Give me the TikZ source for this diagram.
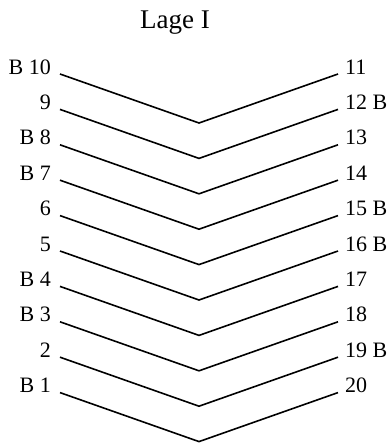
\documentclass[tikz,border=0pt]{standalone}
\usepackage{fontspec}
\setmainfont{Liberation Serif}
\usepackage{tikz}

\tikzset{
  lbl/.style={inner sep=0pt,font=\fontsize{22}{26}\selectfont},
  wire/.style={line width=1.6pt},
}

\begin{document}
\begin{tikzpicture}[x=1pt,y=-1pt]
  \useasboundingbox (0,0) rectangle (389,445);
  \node[anchor=base,inner sep=0pt,font=\fontsize{27}{32}\selectfont] (title) at (175,28) {Lage I};
  \foreach \lt/\rt [count=\i from 0] in {B 10/11, 9/12 B, B 8/13, B 7/14, 6/15 B,
      5/16 B, B 4/17, B 3/18, 2/19 B, B 1/20} {
    \coordinate (l\i) at (60,74+35.4*\i);
    \coordinate (v\i) at (199,123+35.4*\i);
    \coordinate (r\i) at (338,74+35.4*\i);
    \node[lbl,anchor=base east] (ll\i) at (51,74+35.4*\i) {\lt};
    \node[lbl,anchor=base west] (rl\i) at (345,74+35.4*\i) {\rt};
    \draw[wire] (l\i) -- (v\i) -- (r\i);
  }
\end{tikzpicture}
\end{document}
